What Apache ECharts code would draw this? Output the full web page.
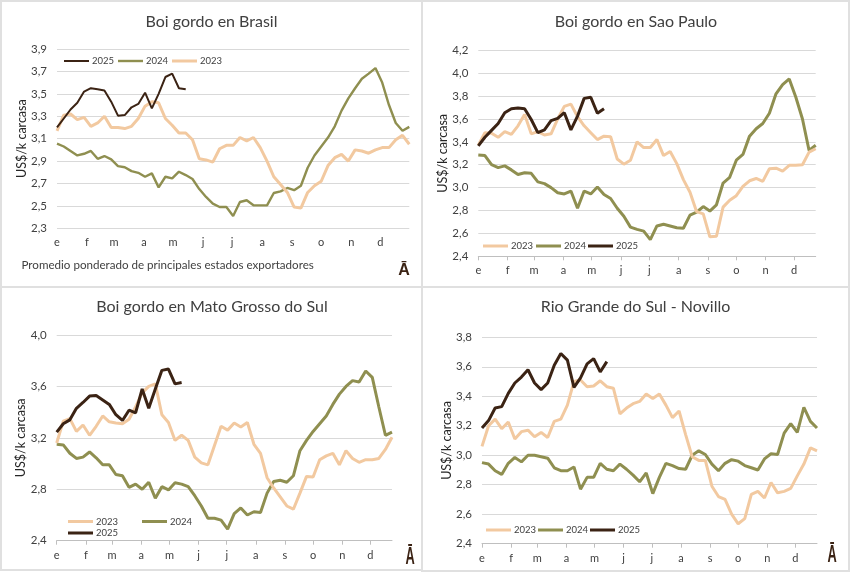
<!DOCTYPE html>
<html>
<head>
<meta charset="utf-8">
<title>Boi gordo</title>
<script src="https://cdn.jsdelivr.net/npm/echarts@6/dist/echarts.min.js"></script>
<style>
html, body { margin: 0; padding: 0; background: #fff; }
#chart { width: 850px; height: 572px; }
</style>
</head>
<body>
<div id="chart"></div>
<script>
var monthLabels = ['e', 'f', 'm', 'a', 'm', 'j', 'j', 'a', 's', 'o', 'n', 'd'];
var monthDays = [0, 31, 59, 90, 120, 151, 181, 212, 243, 273, 304, 334];

var brasil2023 = [3.17,3.31,3.32,3.27,3.29,3.21,3.24,3.30,3.20,3.20,3.19,3.21,3.28,3.39,3.43,3.42,3.28,3.22,3.15,3.15,3.09,2.92,2.91,2.89,3.01,3.04,3.04,3.11,3.08,3.11,3.02,2.90,2.76,2.69,2.62,2.49,2.48,2.62,2.68,2.72,2.86,2.93,2.96,2.90,3.00,2.99,2.97,3.00,3.02,3.02,3.09,3.13,3.05];
var brasil2024 = [3.055,3.03,2.99,2.95,2.965,2.99,2.92,2.945,2.915,2.855,2.845,2.81,2.795,2.76,2.79,2.665,2.76,2.745,2.805,2.775,2.74,2.65,2.58,2.52,2.49,2.49,2.41,2.535,2.55,2.505,2.505,2.505,2.615,2.63,2.66,2.64,2.68,2.84,2.95,3.03,3.11,3.21,3.35,3.46,3.55,3.635,3.68,3.73,3.60,3.40,3.24,3.17,3.205];
var brasil2025 = [3.2,3.28,3.36,3.42,3.52,3.55,3.54,3.53,3.43,3.305,3.31,3.38,3.41,3.51,3.37,3.5,3.65,3.68,3.55,3.54];

var saoPaulo2023 = [3.37,3.48,3.475,3.44,3.49,3.465,3.54,3.64,3.47,3.49,3.46,3.47,3.60,3.71,3.73,3.62,3.54,3.48,3.42,3.45,3.445,3.25,3.205,3.24,3.40,3.35,3.35,3.42,3.28,3.315,3.21,3.07,2.96,2.79,2.77,2.57,2.575,2.83,2.89,2.93,3.01,3.06,3.08,3.055,3.165,3.17,3.145,3.195,3.195,3.20,3.31,3.34];
var saoPaulo2024 = [3.285,3.28,3.20,3.175,3.19,3.155,3.115,3.13,3.125,3.05,3.035,3.0,2.955,2.945,2.97,2.82,2.97,2.945,3.005,2.94,2.905,2.82,2.75,2.655,2.635,2.62,2.545,2.665,2.68,2.665,2.65,2.645,2.76,2.785,2.835,2.795,2.85,3.04,3.09,3.24,3.29,3.45,3.515,3.56,3.65,3.82,3.90,3.95,3.79,3.60,3.325,3.37];
var saoPaulo2025 = [3.365,3.44,3.5,3.56,3.655,3.69,3.695,3.69,3.595,3.48,3.505,3.585,3.605,3.655,3.505,3.625,3.78,3.79,3.65,3.69];

var matoGrosso2023 = [3.16,3.33,3.35,3.25,3.30,3.22,3.29,3.37,3.325,3.315,3.31,3.345,3.44,3.55,3.60,3.62,3.38,3.32,3.18,3.22,3.18,3.05,3.005,2.99,3.14,3.29,3.26,3.315,3.285,3.32,3.15,3.08,2.89,2.81,2.74,2.67,2.645,2.77,2.90,2.895,3.03,3.06,3.08,2.99,3.10,3.04,3.01,3.03,3.03,3.04,3.11,3.205];
var matoGrosso2024 = [3.15,3.145,3.08,3.04,3.05,3.09,3.045,2.99,2.99,2.915,2.905,2.815,2.84,2.80,2.855,2.73,2.82,2.795,2.85,2.84,2.82,2.75,2.67,2.575,2.575,2.56,2.49,2.61,2.655,2.60,2.625,2.62,2.77,2.86,2.87,2.855,2.905,3.10,3.18,3.25,3.31,3.37,3.46,3.54,3.60,3.645,3.635,3.72,3.67,3.44,3.22,3.245];
var matoGrosso2025 = [3.245,3.31,3.34,3.43,3.475,3.525,3.53,3.495,3.46,3.38,3.335,3.415,3.395,3.58,3.43,3.58,3.725,3.735,3.62,3.63];

var rioGrande2023 = [3.06,3.20,3.245,3.18,3.225,3.11,3.16,3.17,3.125,3.155,3.12,3.23,3.245,3.34,3.50,3.51,3.465,3.47,3.505,3.465,3.455,3.28,3.32,3.35,3.365,3.415,3.385,3.415,3.34,3.255,3.30,3.14,2.99,2.965,2.965,2.79,2.72,2.70,2.60,2.535,2.57,2.735,2.755,2.71,2.815,2.745,2.755,2.775,2.86,2.94,3.05,3.03];
var rioGrande2024 = [2.95,2.94,2.895,2.87,2.945,2.985,2.955,3.0,3.0,2.99,2.98,2.915,2.895,2.895,2.92,2.77,2.85,2.85,2.945,2.905,2.895,2.94,2.905,2.865,2.82,2.88,2.74,2.85,2.945,2.93,2.91,2.905,3.0,3.03,3.005,2.94,2.895,2.945,2.97,2.96,2.93,2.915,2.90,2.975,3.01,3.005,3.15,3.215,3.155,3.325,3.23,3.185];
var rioGrande2025 = [3.185,3.235,3.32,3.33,3.42,3.49,3.53,3.58,3.49,3.445,3.49,3.61,3.69,3.645,3.46,3.525,3.62,3.655,3.565,3.635];

var colors = { 2023: '#f2c9a0', 2024: '#8f8f50', 2025: '#3b2314' };
var fontName = 'Lato, "Open Sans", sans-serif';
var textColor = '#404040';

// una entrada por panel, x/y en pixeles de la pagina
var panels = [
    {
        title: 'Boi gordo en Brasil', titleX: 211.5, titleY: 9, box: [1, 1, 421, 286],
        grid: { left: 57, right: 409.3, top: 49, bottom: 228.3 },
        min: 2.3, max: 3.9, step: 0.2, lastDay: 364, ticks: false,
        s2023: brasil2023, s2024: brasil2024, s2025: brasil2025,
        w2023: 3, w2024: 2.4, w2025: 2,
        legend: [
            { year: 2025, x: 64, y: 61 }, { year: 2024, x: 118, y: 61 }, { year: 2023, x: 172, y: 61 }
        ],
        mark: [404, 271, 1, 1]
    },
    {
        title: 'Boi gordo en Sao Paulo', titleX: 636, titleY: 9, box: [422, 1, 427, 286],
        grid: { left: 478.3, right: 815.7, top: 50.3, bottom: 256.3 },
        min: 2.4, max: 4.2, step: 0.2, lastDay: 357, ticks: true,
        s2023: saoPaulo2023, s2024: saoPaulo2024, s2025: saoPaulo2025,
        w2023: 3, w2024: 3, w2025: 3,
        legend: [
            { year: 2023, x: 483, y: 246 }, { year: 2024, x: 536, y: 246 }, { year: 2025, x: 588, y: 246 }
        ],
        mark: null
    },
    {
        title: 'Boi gordo en Mato Grosso do Sul', titleX: 212, titleY: 294, box: [1, 287, 421, 283],
        grid: { left: 56.7, right: 392, top: 335, bottom: 540.7 },
        min: 2.4, max: 4.0, step: 0.4, lastDay: 357, ticks: true,
        s2023: matoGrosso2023, s2024: matoGrosso2024, s2025: matoGrosso2025,
        w2023: 3, w2024: 3, w2025: 3,
        legend: [
            { year: 2023, x: 68, y: 521.5 }, { year: 2024, x: 142, y: 521.5 }, { year: 2025, x: 68, y: 533 }
        ],
        mark: [410, 557, 0.8, 1.5]
    },
    {
        title: 'Rio Grande do Sul - Novillo', titleX: 635.5, titleY: 294, box: [422, 287, 427, 284],
        grid: { left: 482, right: 817, top: 337.3, bottom: 543.7 },
        min: 2.4, max: 3.8, step: 0.2, lastDay: 357, ticks: true,
        s2023: rioGrande2023, s2024: rioGrande2024, s2025: rioGrande2025,
        w2023: 3, w2024: 3, w2025: 3,
        legend: [
            { year: 2023, x: 486, y: 530 }, { year: 2024, x: 538, y: 530 }, { year: 2025, x: 590, y: 530 }
        ],
        mark: [832, 555, 0.8, 1.5]
    }
];

function weekPoints(values) {
    var pts = [];
    for (var i = 0; i < values.length; i++) {
        pts.push([i * 7, values[i]]);
    }
    return pts;
}

var option = {
    animation: false,
    backgroundColor: '#ffffff',
    grid: [], xAxis: [], yAxis: [], series: [], title: [], graphic: []
};

panels.forEach(function (p, idx) {
    option.graphic.push({
        type: 'rect', z: -1, silent: true,
        shape: { x: p.box[0], y: p.box[1], width: p.box[2], height: p.box[3] },
        style: { fill: 'transparent', stroke: '#e0e0e0', lineWidth: 2 }
    });
    option.title.push({
        text: p.title, left: p.titleX - 5, top: p.titleY, textAlign: 'center',
        textStyle: { fontFamily: fontName, fontSize: 16, fontWeight: 'normal', color: textColor }
    });
    option.grid.push({
        left: p.grid.left, top: p.grid.top,
        width: p.grid.right - p.grid.left, height: p.grid.bottom - p.grid.top,
        containLabel: false
    });
    option.xAxis.push({
        type: 'value', gridIndex: idx, min: 0, max: p.lastDay,
        splitLine: { show: false },
        axisLine: { show: p.ticks, onZero: false, lineStyle: { color: '#bfbfbf', width: 1 } },
        axisTick: { show: p.ticks, customValues: monthDays, length: 4, lineStyle: { color: '#bfbfbf' } },
        axisLabel: {
            customValues: monthDays, margin: 9, fontFamily: fontName, fontSize: 11, color: textColor,
            formatter: function (v) { return monthLabels[monthDays.indexOf(v)]; }
        }
    });
    option.yAxis.push({
        type: 'value', gridIndex: idx, min: p.min, max: p.max, interval: p.step,
        name: 'US$/k carcasa', nameLocation: 'middle', nameRotate: 90, nameGap: 29, nameMoveOverlap: false,
        nameTextStyle: { fontFamily: fontName, fontSize: 12.5, color: '#262626' },
        axisLine: { show: false }, axisTick: { show: false },
        splitLine: { lineStyle: { color: '#d9d9d9', width: 1 } },
        axisLabel: {
            margin: 10, fontFamily: fontName, fontSize: 11.5, color: textColor,
            formatter: function (v) { return v.toFixed(1).replace('.', ','); }
        }
    });
    [2024, 2023, 2025].forEach(function (year) {
        option.series.push({
            type: 'line', name: String(year), xAxisIndex: idx, yAxisIndex: idx,
            data: weekPoints(p['s' + year]), showSymbol: false, symbol: 'none',
            lineStyle: { color: colors[year], width: p['w' + year] },
            z: year === 2025 ? 5 : (year === 2023 ? 4 : 3)
        });
    });
    p.legend.forEach(function (item) {
        option.graphic.push({
            type: 'line', silent: true, z: 6,
            shape: { x1: item.x, y1: item.y, x2: item.x + 25, y2: item.y },
            style: { stroke: colors[item.year], lineWidth: p['w' + item.year] }
        });
        option.graphic.push({
            type: 'text', silent: true, z: 6,
            x: item.x + 28, y: item.y,
            style: { text: String(item.year), fontFamily: fontName, fontSize: 9.5, fill: textColor, verticalAlign: 'middle' }
        });
    });
    if (p.mark) {
        option.graphic.push({
            type: 'text', silent: true, z: 6,
            x: p.mark[0], y: p.mark[1], scaleX: p.mark[2], scaleY: p.mark[3],
            style: { text: 'Ā', fontFamily: '"Liberation Sans", sans-serif', fontWeight: 'bold', fontSize: 16, fill: '#3b2314', align: 'center', verticalAlign: 'middle' }
        });
    }
});

// leyenda al pie del primer panel
option.graphic.push({
    type: 'text', silent: true, z: 6, x: 21.5, y: 265,
    style: { text: 'Promedio ponderado de principales estados exportadores', fontFamily: fontName, fontSize: 11.6, fill: '#404040', verticalAlign: 'middle' }
});

var chart = echarts.init(document.getElementById('chart'), null, { renderer: 'canvas' });
chart.setOption(option);
</script>
</body>
</html>
